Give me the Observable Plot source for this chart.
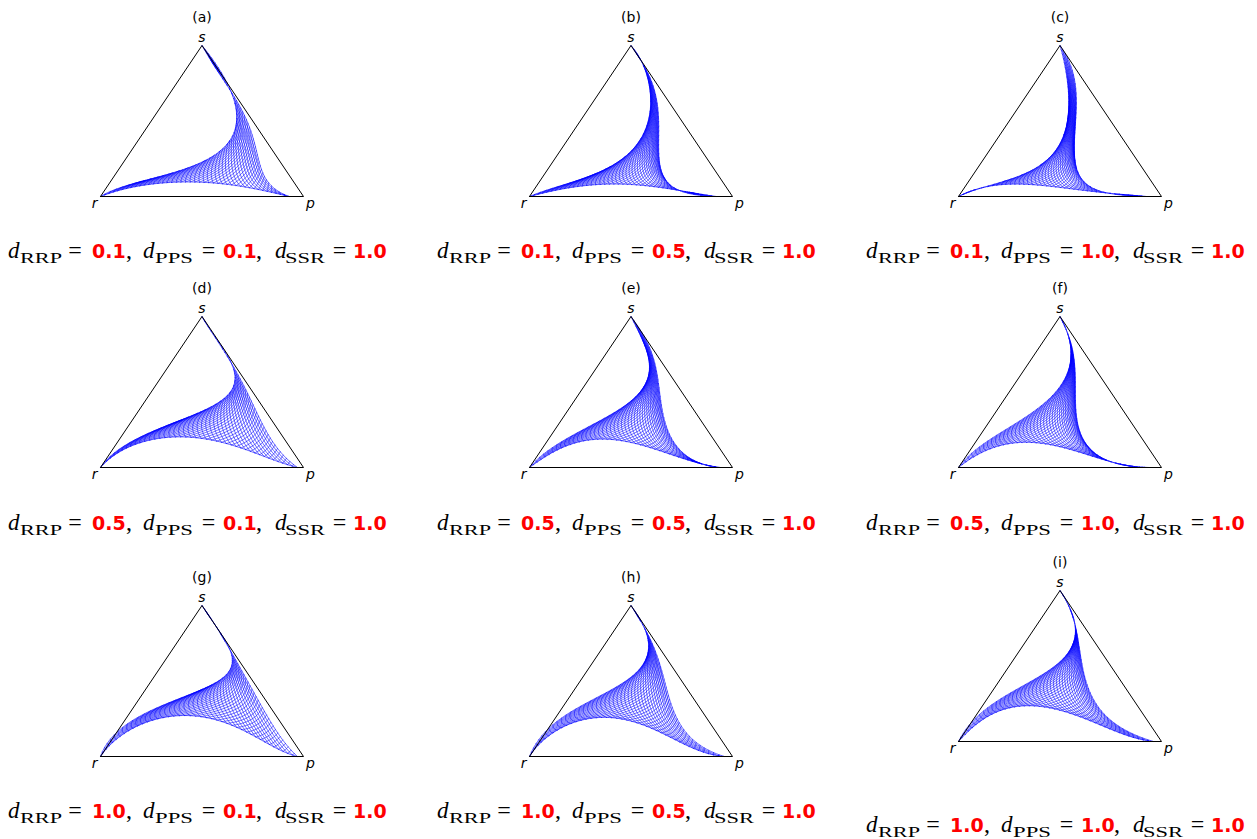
<!DOCTYPE html>
<html><head><meta charset="utf-8">
<script src="https://cdn.jsdelivr.net/npm/d3@7"></script>
<script src="https://cdn.jsdelivr.net/npm/@observablehq/plot@0.6"></script>
<style>
body{margin:0;background:#fff;}
#root{position:relative;width:1257px;height:839px;overflow:hidden;background:#fff;}
.panel{position:absolute;}
</style></head><body><div id="root"></div>
<script>
// ---------------- data ----------------
const panelTitles = ["(a)","(b)","(c)","(d)","(e)","(f)","(g)","(h)","(i)"];
const dRRP = ["0.1","0.1","0.1","0.5","0.5","0.5","1.0","1.0","1.0"];
const dPPS = ["0.1","0.5","1.0","0.1","0.5","1.0","0.1","0.5","1.0"];
const dSSR = ["1.0","1.0","1.0","1.0","1.0","1.0","1.0","1.0","1.0"];
const vertexNames = ["r","p","s"];
// boundary of the blue region, in ternary-plane coordinates [x = p + s/2, y = s]
// lower boundary r -> p
const bottomEdges = [
  [[0,0],[0.115,0.049],[0.28,0.086],[0.51,0.093],[0.69,0.07],[0.8,0.038],[0.9,0.01],[0.93,0]],
  [[0,0],[0.118,0.038],[0.282,0.073],[0.447,0.082],[0.611,0.067],[0.775,0.029],[0.874,0.011],[0.92,0]],
  [[0,0],[0.123,0.06],[0.238,0.082],[0.369,0.077],[0.533,0.055],[0.697,0.027],[0.861,0.009],[0.926,0]],
  [[0,0],[0.08,0.09],[0.18,0.16],[0.36,0.2],[0.52,0.19],[0.69,0.13],[0.85,0.05],[0.97,0]],
  [[0,0],[0.118,0.1],[0.28,0.18],[0.33,0.19],[0.53,0.155],[0.69,0.088],[0.857,0.022],[0.94,0]],
  [[0,0],[0.062,0.06],[0.127,0.104],[0.29,0.17],[0.45,0.148],[0.62,0.093],[0.78,0.027],[0.94,0]],
  [[0,0],[0.05,0.08],[0.115,0.15],[0.28,0.25],[0.39,0.27],[0.61,0.227],[0.77,0.127],[0.9,0.027],[0.97,0]],
  [[0,0],[0.12,0.16],[0.29,0.25],[0.37,0.26],[0.53,0.226],[0.69,0.126],[0.86,0.027],[0.96,0]],
  [[0,0],[0.074,0.09],[0.156,0.18],[0.32,0.236],[0.48,0.214],[0.65,0.137],[0.81,0.048],[0.96,0]]
];
// right boundary p -> s
const rightEdges = [
  [[0.93,0],[0.87,0.05],[0.8,0.12],[0.78,0.2],[0.785,0.28],[0.75,0.42],[0.67,0.61],[0.615,0.76],[0.555,0.88],[0.5,1]],
  [[0.92,0],[0.775,0.033],[0.69,0.067],[0.66,0.12],[0.65,0.21],[0.635,0.43],[0.624,0.66],[0.6,0.77],[0.555,0.88],[0.5,1]],
  [[0.926,0],[0.779,0.027],[0.648,0.05],[0.598,0.126],[0.582,0.215],[0.574,0.436],[0.579,0.657],[0.566,0.812],[0.533,0.923],[0.5,1]],
  [[0.97,0],[0.9,0.088],[0.84,0.18],[0.8,0.27],[0.77,0.38],[0.72,0.51],[0.67,0.62],[0.61,0.77],[0.5,1]],
  [[0.94,0],[0.81,0.044],[0.73,0.13],[0.68,0.27],[0.64,0.44],[0.627,0.66],[0.585,0.82],[0.535,0.92],[0.5,1]],
  [[0.94,0],[0.78,0.035],[0.7,0.06],[0.62,0.17],[0.58,0.33],[0.58,0.55],[0.57,0.7],[0.55,0.83],[0.5,1]],
  [[0.97,0],[0.92,0.06],[0.87,0.17],[0.77,0.39],[0.7,0.55],[0.66,0.66],[0.61,0.77],[0.5,1]],
  [[0.96,0],[0.86,0.06],[0.74,0.21],[0.68,0.43],[0.65,0.59],[0.61,0.72],[0.555,0.88],[0.5,1]],
  [[0.96,0],[0.85,0.06],[0.7,0.2],[0.63,0.4],[0.6,0.58],[0.58,0.73],[0.55,0.88],[0.5,1]]
];
// inner boundary s -> r
const innerEdges = [
  [[0.5,1],[0.61,0.79],[0.66,0.61],[0.665,0.5],[0.66,0.39],[0.51,0.24],[0.28,0.126],[0.115,0.07],[0,0]],
  [[0.5,1],[0.59,0.77],[0.59,0.61],[0.58,0.478],[0.53,0.344],[0.45,0.233],[0.28,0.133],[0.118,0.056],[0,0]],
  [[0.5,1],[0.535,0.8],[0.54,0.7],[0.54,0.55],[0.51,0.39],[0.45,0.25],[0.29,0.126],[0.123,0.07],[0,0]],
  [[0.5,1],[0.59,0.8],[0.64,0.71],[0.66,0.62],[0.66,0.53],[0.61,0.44],[0.44,0.354],[0.28,0.254],[0.115,0.133],[0,0]],
  [[0.5,1],[0.565,0.8],[0.59,0.62],[0.55,0.49],[0.45,0.4],[0.28,0.265],[0.118,0.133],[0,0]],
  [[0.5,1],[0.55,0.72],[0.53,0.59],[0.45,0.46],[0.29,0.3],[0.127,0.16],[0,0]],
  [[0.5,1],[0.6,0.78],[0.65,0.66],[0.64,0.57],[0.61,0.51],[0.44,0.42],[0.28,0.33],[0.115,0.19],[0,0]],
  [[0.5,1],[0.58,0.78],[0.58,0.68],[0.55,0.57],[0.45,0.48],[0.29,0.37],[0.12,0.21],[0,0]],
  [[0.5,1],[0.57,0.78],[0.56,0.64],[0.52,0.53],[0.4,0.445],[0.24,0.31],[0.074,0.137],[0,0]]
];

// ---------------- layout ----------------
const colRX = [100, 529, 958];          // pixel x of vertex r
const rowBaseY = [195.5, 466.5, 755.5]; // pixel y of triangle base
const lastBaseY = 740.7;
const formulaX = [8.3, 437.3, 866.3];
const formulaBase = [258, 530, 818];
const lastFormulaBase = 832;
const DEG = 6, NLINES = 42, NSAMP = 80;

// ---------------- geometry helpers ----------------
function binom(n,k){let r=1;for(let i=1;i<=k;i++)r=r*(n-k+i)/i;return r;}
function bern(n,t){const a=[];for(let i=0;i<=n;i++)a.push(binom(n,i)*Math.pow(t,i)*Math.pow(1-t,n-i));return a;}
function solve(A,b){const n=b.length;A=A.map(r=>r.slice());b=b.slice();
  for(let i=0;i<n;i++){let mx=i;for(let r=i+1;r<n;r++)if(Math.abs(A[r][i])>Math.abs(A[mx][i]))mx=r;
    [A[i],A[mx]]=[A[mx],A[i]];[b[i],b[mx]]=[b[mx],b[i]];
    for(let r=i+1;r<n;r++){const f=A[r][i]/A[i][i];for(let c=i;c<n;c++)A[r][c]-=f*A[i][c];b[r]-=f*b[i];}}
  const x=new Array(n).fill(0);for(let i=n-1;i>=0;i--){let s=b[i];for(let c=i+1;c<n;c++)s-=A[i][c]*x[c];x[i]=s/A[i][i];}return x;}
function evalCurve(C,t){const B=bern(C.length-1,t);let x=0,y=0;B.forEach((w,i)=>{x+=w*C[i][0];y+=w*C[i][1];});return [x,y];}
function fitEdge(pts,n,lambda){
  const m=pts.length;let d=[0];
  for(let k=1;k<m;k++)d.push(d[k-1]+Math.hypot(pts[k][0]-pts[k-1][0],pts[k][1]-pts[k-1][1]));
  let t=d.map(v=>v/d[m-1]);
  const P0=pts[0],Pn=pts[m-1];let C;
  for(let it=0;it<6;it++){
    const M=Array.from({length:n-1},()=>new Array(n-1).fill(0));
    const Rx=new Array(n-1).fill(0),Ry=new Array(n-1).fill(0);
    for(let k=0;k<m;k++){const B=bern(n,t[k]);
      const rx=pts[k][0]-B[0]*P0[0]-B[n]*Pn[0],ry=pts[k][1]-B[0]*P0[1]-B[n]*Pn[1];
      for(let i=1;i<n;i++){Rx[i-1]+=B[i]*rx;Ry[i-1]+=B[i]*ry;for(let j=1;j<n;j++)M[i-1][j-1]+=B[i]*B[j];}}
    for(let r=1;r<n;r++){const e=new Array(n+1).fill(0);e[r-1]=1;e[r]=-2;e[r+1]=1;
      for(let i=1;i<n;i++){if(!e[i])continue;
        for(let j=1;j<n;j++)M[i-1][j-1]+=lambda*e[i]*e[j];
        Rx[i-1]-=lambda*e[i]*(e[0]*P0[0]+e[n]*Pn[0]);Ry[i-1]-=lambda*e[i]*(e[0]*P0[1]+e[n]*Pn[1]);}}
    const cx=solve(M,Rx),cy=solve(M,Ry);
    C=[P0];for(let i=0;i<n-1;i++)C.push([cx[i],cy[i]]);C.push(Pn);
    const samp=d3.range(401).map(i=>{const tt=i/400;return [tt,evalCurve(C,tt)];});
    t=pts.map((p,k)=>{if(k===0)return 0;if(k===m-1)return 1;let best=0,bd=1e9;
      for(const [tt,q] of samp){const dd=(q[0]-p[0])**2+(q[1]-p[1])**2;if(dd<bd){bd=dd;best=tt;}}return best;});
  }
  return C;
}
function buildPatch(Cb,Cr,Ci){
  const n=DEG;
  const net=new Map();const key=(i,j)=>i+","+j;
  for(let j=0;j<=n;j++)net.set(key(n-j,j),Cb[j]);
  for(let k=0;k<=n;k++)net.set(key(0,n-k),Cr[k]);
  for(let m=0;m<=n;m++)net.set(key(m,0),Ci[m]);
  const interior=[];
  for(let i=1;i<n;i++)for(let j=1;j<n-i;j++){interior.push([i,j]);
    const b=j/n,c=1-i/n-b;net.set(key(i,j),[b*Cb[n][0]+c*0.5,c]);}
  for(let it=0;it<600;it++){for(const [i,j] of interior){
    const nb=[[i+1,j-1],[i-1,j+1],[i+1,j],[i-1,j],[i,j+1],[i,j-1]];
    let x=0,y=0;for(const [a,b] of nb){const q=net.get(key(a,b));x+=q[0];y+=q[1];}
    net.set(key(i,j),[x/6,y/6]);}}
  const coef=[];for(let i=0;i<=n;i++)for(let j=0;j<=n-i;j++){const k=n-i-j;
    coef.push([i,j,k,binom(n,i)*binom(n-i,j),net.get(key(i,j))]);}
  return (a,b,c)=>{let x=0,y=0;for(const [i,j,k,w,q] of coef){const f=w*Math.pow(a,i)*Math.pow(b,j)*Math.pow(c,k);x+=f*q[0];y+=f*q[1];}return [x,y];};
}
function buildMesh(bottom,right,inner){
  const Cb=fitEdge(bottom,DEG,0.002),Cr=fitEdge(right,DEG,0.002),Ci=fitEdge(inner,DEG,0.002);
  const P=buildPatch(Cb,Cr,Ci);const out=[];let id=0;
  const poly=[];
  for(const C of [Cb,Cr,Ci])for(let i=0;i<200;i++)poly.push(evalCurve(C,i/200));
  for(const C of [Cb,Cr,Ci]){for(let i=0;i<=120;i++){const q=evalCurve(C,i/120);out.push({x:q[0],y:q[1],id});}id++;}
  for(let fam=0;fam<2;fam++){
    for(let l=1;l<NLINES;l++){const u=l/NLINES;
      for(let s=0;s<=NSAMP;s++){const v=(1-u)*s/NSAMP,w=1-u-v;
        let a,b,c;
        if(fam===0){a=u;b=v;c=w;}else{b=u;c=v;a=w;}
        const q=P(a,b,c);
        const inside=d3.polygonContains(poly,q)||s===0||s===NSAMP;
        out.push({x:inside?q[0]:NaN,y:inside?q[1]:NaN,id});}
      id++;}}
  return out;
}

// ---------------- drawing ----------------
const root=d3.select("#root");
const tri=[{p:0,s:0},{p:1,s:0},{p:0,s:1},{p:0,s:0}].map(d=>({x:d.p+d.s/2,y:d.s}));

for(let p=0;p<9;p++){
  const col=p%3,row=Math.floor(p/3);
  const rX=colRX[col];const baseY=p===8?lastBaseY:rowBaseY[row];
  const mesh=buildMesh(bottomEdges[p],rightEdges[p],innerEdges[p]);
  const lab={fontStyle:"italic",fontSize:14,fill:"black",text:d=>d};
  const chart=Plot.plot({
    width:300,height:200,
    x:{domain:[0,1],range:[50,253],axis:null},
    y:{domain:[0,1],range:[181,30],axis:null},
    style:{fontFamily:"DejaVu Sans",background:"transparent",overflow:"visible"},
    marks:[
      Plot.line(mesh,{x:"x",y:"y",z:"id",stroke:"#0000ff",strokeWidth:0.6}),
      Plot.line(tri,{x:"x",y:"y",stroke:"black",strokeWidth:1}),
      Plot.text([vertexNames[0]],{...lab,x:()=>0,y:()=>0,dx:-6,dy:7}),
      Plot.text([vertexNames[1]],{...lab,x:()=>1,y:()=>0,dx:7,dy:7}),
      Plot.text([vertexNames[2]],{...lab,x:()=>0.5,y:()=>1,dx:0,dy:-8}),
      Plot.text([panelTitles[p]],{x:()=>0.5,y:()=>1,text:d=>d,dy:-28,fontSize:14,fill:"black"})
    ]});
  root.append("div").attr("class","panel").style("left",(rX-50)+"px").style("top",(baseY-181)+"px").node().appendChild(chart);

  // formula
  const fb=p===8?lastFormulaBase:formulaBase[row];
  const svg=root.append("svg").attr("width",400).attr("height",40).style("position","absolute")
    .style("left",formulaX[col]+"px").style("top",(fb-28)+"px");
  const B=28;
  const serif="'Liberation Serif', 'Times New Roman', serif";
  const groups=[["RRP",dRRP[p]],["PPS",dPPS[p]],["SSR",dSSR[p]]];
  const offs=[[0,12,42,67,84,118],[135,147,38,200.5,215,248],[267,277,40,331.5,345,null]];
  groups.forEach((g,gi)=>{const o=offs[gi];
    svg.append("text").attr("x",o[0]).attr("y",B).attr("font-family",serif).attr("font-style","italic").attr("font-size",23).text("d");
    svg.append("text").attr("x",o[1]).attr("y",B+4.5).attr("font-family",serif).attr("font-size",15).attr("textLength",o[2]).attr("lengthAdjust","spacingAndGlyphs").text(g[0]);
    svg.append("text").attr("x",o[3]).attr("y",B).attr("font-family",serif).attr("font-size",24).attr("text-anchor","middle").text("=");
    svg.append("text").attr("x",o[4]).attr("y",B).attr("font-family","DejaVu Sans").attr("font-weight","bold").attr("font-size",19).attr("fill","#ff0000").text(g[1]);
    if(o[5]!==null)svg.append("text").attr("x",o[5]).attr("y",B).attr("font-family",serif).attr("font-size",24).text(",");
  });
}
</script></body></html>
